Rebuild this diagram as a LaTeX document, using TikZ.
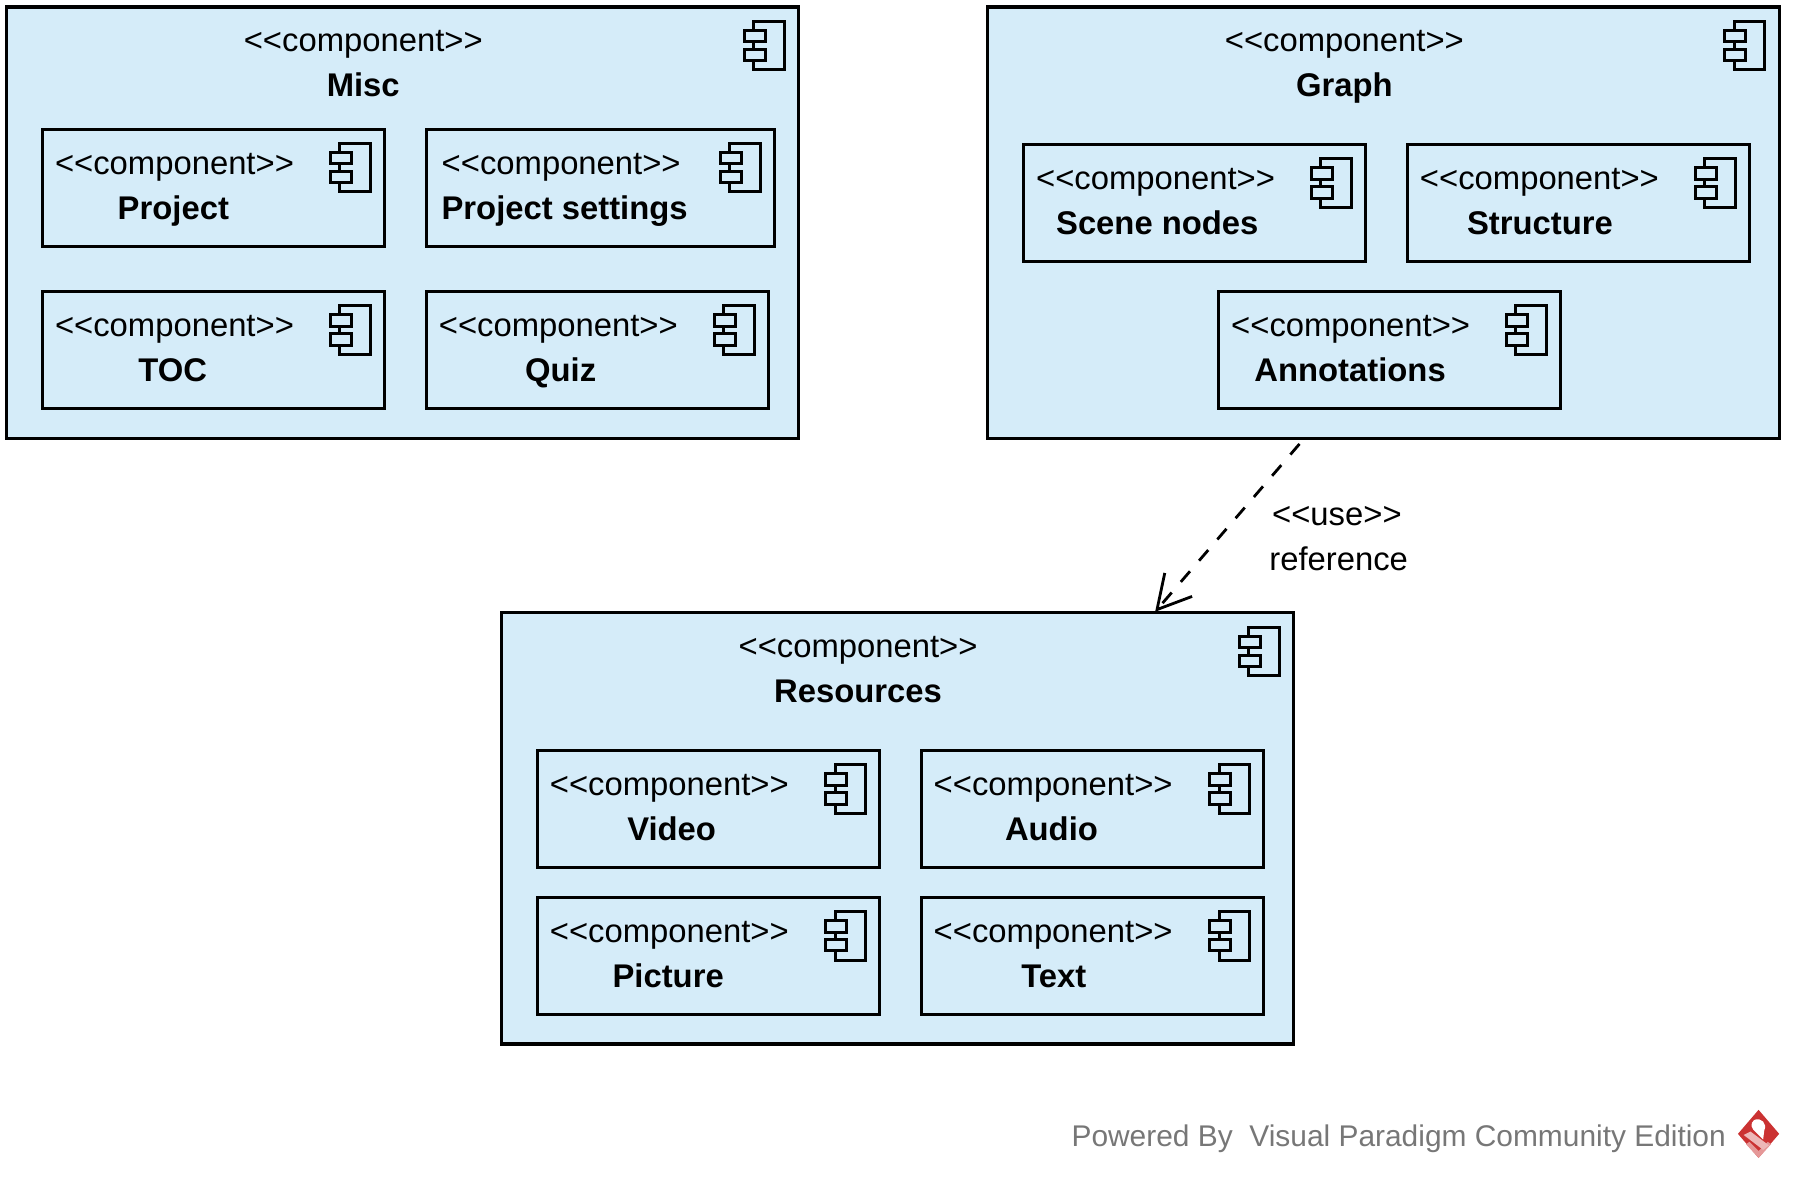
\documentclass[tikz,border=0pt]{standalone}
\usepackage{fontspec}
\setmainfont{Liberation Sans}
\usepackage{tikz}
\usetikzlibrary{arrows.meta,positioning}

\definecolor{compblue}{HTML}{D5ECF9}
\definecolor{logored}{HTML}{CB3232}
\definecolor{footgray}{HTML}{777777}

\tikzset{
  outerbox/.style={rectangle, draw, line width=1.6pt, fill=compblue, minimum width=395.8pt, minimum height=215.6pt, inner sep=0pt, outer sep=0pt},
  innerbox/.style={rectangle, draw, line width=1.5pt, minimum width=171pt, minimum height=58.6pt, inner sep=0pt, outer sep=0pt},
  stereo/.style={anchor=base, inner sep=0pt, font=\fontsize{16.4}{18}\selectfont},
  compname/.style={anchor=base, inner sep=0pt, font=\fontsize{16.4}{18}\selectfont\bfseries},
  compicon/.pic={
    \draw [line width=1.5pt] (-39,12.5) rectangle (-12.5,55);
    \draw [line width=1.5pt, fill=compblue] (-47.5,20.5) rectangle (-29,30.5);
    \draw [line width=1.5pt, fill=compblue] (-47.5,37) rectangle (-29,47);
  }
}

\begin{document}
\begin{tikzpicture}[x=0.572pt, y=-0.572pt]
\useasboundingbox (0,0) rectangle (1568,1036);

\node (misc) [outerbox] at (352,194.5) {};
\node (project) [innerbox] at (186.5,164) {};
\node (settings) [innerbox, minimum width=174pt, right=21pt of project] {};
\node (toc) [innerbox, below=22.6pt of project] {};
\node (quiz) [innerbox, right=21pt of toc] {};

\node (graph) [outerbox] at (1209,194.5) {};
\node (scene) [innerbox] at (1044,177.5) {};
\node (structure) [innerbox, right=21pt of scene] {};
\node (annotations) [innerbox] at (1214.5,306) {};

\node (resources) [outerbox] at (784.5,724) {};
\node (video) [innerbox] at (619.5,707) {};
\node (audio) [innerbox, right=21pt of video] {};
\node (picture) [innerbox, below=14.8pt of video] {};
\node (text) [innerbox, right=21pt of picture] {};

\foreach \b in {misc,project,settings,toc,quiz,graph,scene,structure,annotations,resources,video,audio,picture,text}
  \pic at (\b.north east) {compicon};

% labels
\node (miscst) [stereo] at (317.5,45) {<{}<component>{}>};
\node (miscname) [compname] at (317.5,84.5) {Misc};
\node (projectst) [stereo] at (152.5,152.5) {<{}<component>{}>};
\node (projectname) [compname] at (151.5,191.5) {Project};
\node (settingsst) [stereo] at (490.5,152.5) {<{}<component>{}>};
\node (settingsname) [compname] at (493.5,191.5) {Project settings};
\node (tocst) [stereo] at (152.5,294) {<{}<component>{}>};
\node (tocname) [compname] at (151,333.5) {TOC};
\node (quizst) [stereo] at (488,294) {<{}<component>{}>};
\node (quizname) [compname] at (490,333.5) {Quiz};

\node (graphst) [stereo] at (1175,45) {<{}<component>{}>};
\node (graphname) [compname] at (1175,84.5) {Graph};
\node (scenest) [stereo] at (1010,165.5) {<{}<component>{}>};
\node (scenename) [compname] at (1011.5,205) {Scene nodes};
\node (structurest) [stereo] at (1345.5,165.5) {<{}<component>{}>};
\node (structurename) [compname] at (1346,205) {Structure};
\node (annotationsst) [stereo] at (1180.5,294) {<{}<component>{}>};
\node (annotationsname) [compname] at (1180,333.5) {Annotations};

\node (resourcesst) [stereo] at (750,574.5) {<{}<component>{}>};
\node (resourcesname) [compname] at (750,614) {Resources};
\node (videost) [stereo] at (585,695) {<{}<component>{}>};
\node (videoname) [compname] at (587,734.5) {Video};
\node (audiost) [stereo] at (920.5,695) {<{}<component>{}>};
\node (audioname) [compname] at (919,734.5) {Audio};
\node (picturest) [stereo] at (585,824) {<{}<component>{}>};
\node (picturename) [compname] at (584,863) {Picture};
\node (textst) [stereo] at (920.5,824) {<{}<component>{}>};
\node (textname) [compname] at (921,863) {Text};

% dependency
\coordinate (usefrom) at (1135.8,388);
\coordinate (useto) at (1009.6,534.7);
\draw [line width=1.4pt, dash pattern=on 7pt off 7pt, -{Straight Barb[length=16.4pt,width=18pt]}] (usefrom) -- (useto);
\node (usest) [stereo] at (1168.5,459) {<{}<use>{}>};
\node (usename) [stereo] at (1170,498.5) {reference};

% footer
\node (footer) [anchor=base, inner sep=0pt, text=footgray, font=\fontsize{14.95}{17}\selectfont] at (1222.5,1002) {Powered By\ \ Visual Paradigm Community Edition};
% logo
\fill [logored] (1537,970) -- (1555,991) -- (1537,1012) -- (1519,991) -- cycle;
\fill [logored!50] (1526,1000) -- (1537,1012) -- (1548,1000) -- (1545,998) -- (1537,1006) -- (1529,998) -- cycle;
\fill [logored!35] (1524,992) -- (1530,989) -- (1546,1001) -- (1541,1005) -- cycle;
\fill [white] (1533,979) .. controls (1539,976) and (1545,982) .. (1542,988) -- (1541,996) -- (1535,990) .. controls (1531,987) and (1529,982) .. (1533,979);
\end{tikzpicture}
\end{document}
